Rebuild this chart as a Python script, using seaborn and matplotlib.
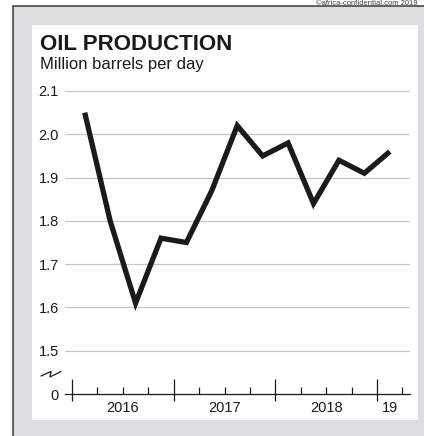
import matplotlib
matplotlib.use("Agg")
import matplotlib.pyplot as plt
from matplotlib.patches import Rectangle
from matplotlib.lines import Line2D
import seaborn as sns
import pandas as pd

# Quarterly oil output, million barrels per day
quarters = ["2016Q1", "2016Q2", "2016Q3", "2016Q4",
            "2017Q1", "2017Q2", "2017Q3", "2017Q4",
            "2018Q1", "2018Q2", "2018Q3", "2018Q4",
            "2019Q1"]
production = [2.05, 1.80, 1.61, 1.76,
              1.75, 1.87, 2.02, 1.95,
              1.98, 1.84, 1.94, 1.91,
              1.96]

y_ticks = [1.5, 1.6, 1.7, 1.8, 1.9, 2.0, 2.1]
y_tick_labels = ["1.5", "1.6", "1.7", "1.8", "1.9", "2.0", "2.1"]
zero_label = "0"
years = [2016, 2017, 2018, 2019]
year_labels = ["2016", "2017", "2018", "19"]
year_label_pos = [2016.5, 2017.5, 2018.5, 2019.125]

sns.set_theme(style="white")
plt.rcParams["font.family"] = ["Liberation Sans", "DejaVu Sans"]

W, H = 424, 436
fig = plt.figure(figsize=(W / 100, H / 100), dpi=100, facecolor="white")


def fx(px):
    return px / W


def fy(py):
    return 1 - py / H


# Frame: grey surround with dark left/top rule and white inner panel
fig.patches.append(Rectangle((fx(13), 0), 1 - fx(13), fy(6), transform=fig.transFigure,
                             facecolor="#dcdddf", edgecolor="none", zorder=0))
fig.lines.append(Line2D([fx(13), fx(13)], [0, fy(6)], transform=fig.transFigure,
                        color="#3a3a3a", lw=1.1, zorder=1))
fig.lines.append(Line2D([fx(13), 1], [fy(6), fy(6)], transform=fig.transFigure,
                        color="#3a3a3a", lw=1.1, zorder=1))
fig.patches.append(Rectangle((fx(32), fy(420)), fx(418) - fx(32), fy(25) - fy(420),
                             transform=fig.transFigure, facecolor="white",
                             edgecolor="none", zorder=1))

fig.text(fx(418), fy(5), "\u00a9africa-confidential.com 2019", fontsize=5.5,
         color="#444444", va="baseline", ha="right")

# Titles
fig.text(fx(40), fy(50), "OIL PRODUCTION", fontsize=16, fontweight="bold",
         color="#1a1a1a", va="baseline", ha="left")
fig.text(fx(40), fy(69), "Million barrels per day", fontsize=12,
         color="#1a1a1a", va="baseline", ha="left")

# Plot area; the bottom of the y range stands for zero (broken axis)
y_bottom = 1.4
ax = fig.add_axes([fx(65), fy(394), fx(410) - fx(65), fy(91) - fy(394)])
ax.set_facecolor("none")
ax.set_zorder(3)

df = pd.DataFrame({"quarter": quarters, "value": production})
df["pos"] = [int(q[:4]) + (int(q[-1]) - 0.5) / 4 for q in df["quarter"]]

sns.lineplot(data=df, x="pos", y="value", ax=ax, color="#1a1a1a", linewidth=3.8,
             solid_joinstyle="miter", solid_capstyle="butt", clip_on=False, zorder=5)

x_min, x_max = 2015.931, 2019.324
ax.set_xlim(x_min, x_max)
ax.set_ylim(y_bottom, 2.1)
ax.set_xlabel("")
ax.set_ylabel("")

# y axis: grid lines with labels, zero at the bottom
ax.set_yticks([y_bottom] + y_ticks, labels=[zero_label] + y_tick_labels)
ax.tick_params(axis="y", length=0, pad=4.5, labelsize=10.5, labelcolor="#1a1a1a")
for v in y_ticks:
    ax.axhline(v, color="#c6c6c6", lw=0.9, zorder=1)

for s in ["top", "right", "left"]:
    ax.spines[s].set_visible(False)
ax.spines["bottom"].set_color("#1a1a1a")
ax.spines["bottom"].set_linewidth(0.9)

# x axis: year ticks crossing the line, quarter ticks above it
quarter_ticks = [y + q / 4 for y in years for q in (1, 2, 3) if y + q / 4 < x_max]
ax.set_xticks(years)
ax.set_xticks(quarter_ticks, minor=True)
ax.tick_params(axis="x", which="major", direction="in", length=10.8, width=0.9,
               color="#1a1a1a", bottom=True, labelbottom=False)
ax.tick_params(axis="x", which="minor", direction="in", length=5, width=0.9,
               color="#1a1a1a", bottom=True, labelbottom=False)

xtrans = ax.get_xaxis_transform()
below = 7 / (394 - 91)
for yr in years:
    ax.plot([yr, yr], [0, -below], transform=xtrans, color="#1a1a1a", lw=0.9,
            clip_on=False, solid_capstyle="butt")
for pos, lab in zip(year_label_pos, year_labels):
    ax.text(pos, -0.022, lab, transform=xtrans, ha="center", va="top",
            fontsize=10.5, color="#1a1a1a")

# Axis-break mark between zero and 1.5
fig.lines.append(Line2D([fx(41), fx(51), fx(50), fx(61)],
                        [fy(376), fy(371.5), fy(377), fy(371.5)],
                        transform=fig.transFigure, color="#1a1a1a", lw=0.9, zorder=4))

fig.savefig("out.png", dpi=100, facecolor="white")
